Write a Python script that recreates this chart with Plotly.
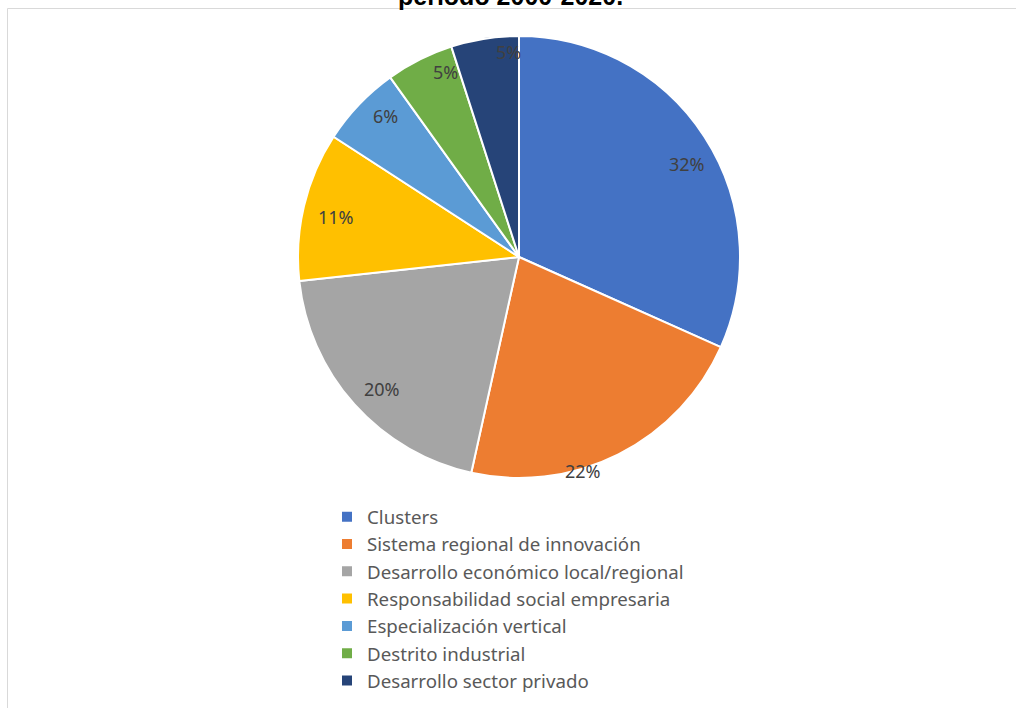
import math
import plotly.graph_objects as go

# Shares of studies by conceptual approach (percent)
categories = [
    "Clusters",
    "Sistema regional de innovación",
    "Desarrollo económico local/regional",
    "Responsabilidad social empresaria",
    "Especialización vertical",
    "Destrito industrial",
    "Desarrollo sector privado",
]
shares = [32, 22, 20, 11, 6, 5, 5]

colors = ["#4472C4", "#ED7D31", "#A5A5A5", "#FFC000", "#5B9BD5", "#70AD47", "#264478"]

# Label placement (fraction of radius, angular nudge in degrees)
label_radius = [0.87, 1.01, 0.86, 0.85, 0.88, 0.90, 0.93]
label_nudge = [4, 10, -2, -1, 3, 5, 6]

W, H = 1016, 708
CX, CY, R = 519, 257, 221  # pie centre and radius in pixels

fig = go.Figure(
    go.Pie(
        labels=categories,
        values=shares,
        sort=False,
        direction="clockwise",
        rotation=0,
        marker=dict(colors=colors, line=dict(color="white", width=2)),
        textinfo="none",
        hoverinfo="label+percent",
        domain=dict(
            x=[(CX - R) / W, (CX + R) / W],
            y=[1 - (CY + R) / H, 1 - (CY - R) / H],
        ),
    )
)

# Percentage labels placed along each slice's bisector
total = sum(shares)
annotations = []
cum = 0
for v, f, nd in zip(shares, label_radius, label_nudge):
    theta = math.radians(360 * (cum + v / 2) / total + nd)
    cum += v
    px = CX + R * f * math.sin(theta)
    py = CY - R * f * math.cos(theta)
    annotations.append(
        dict(
            x=px / W, y=1 - py / H, xref="paper", yref="paper",
            text=f"{v}%", showarrow=False,
            font=dict(family="Noto Sans", size=18, color="#404040"),
            xanchor="center", yanchor="middle",
        )
    )

# Title (top line partially outside the page)
annotations.append(
    dict(
        x=510 / W, y=1 - 12 / H, xref="paper", yref="paper",
        text="<b>período 2000-2020.</b>", showarrow=False,
        font=dict(family="Liberation Sans", size=25, color="#000000"),
        xanchor="center", yanchor="bottom",
    )
)

fig.update_layout(
    width=W, height=H,
    margin=dict(l=0, r=0, t=0, b=0),
    paper_bgcolor="white",
    plot_bgcolor="white",
    annotations=annotations,
    showlegend=True,
    legend=dict(
        x=327 / W, y=1 - 498 / H, xanchor="left", yanchor="top",
        font=dict(family="Noto Sans", size=18.7, color="#595959"),
        bgcolor="rgba(0,0,0,0)",
        traceorder="normal",
    ),
    shapes=[
        dict(
            type="rect", xref="paper", yref="paper",
            x0=7.5 / W, x1=1.05, y0=-0.05, y1=1 - 8.5 / H,
            line=dict(color="#D9D9D9", width=1),
            fillcolor="rgba(0,0,0,0)", layer="below",
        )
    ],
)

fig.write_html("out.html")
